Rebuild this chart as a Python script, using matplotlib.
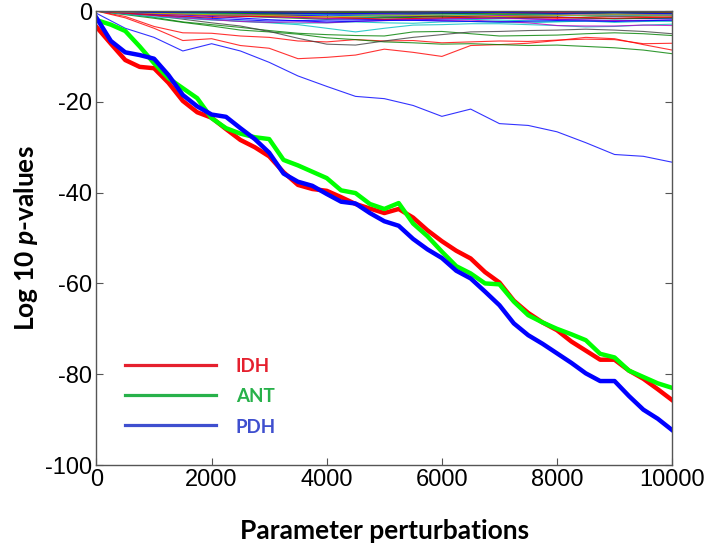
import matplotlib
matplotlib.use("Agg")
import matplotlib.pyplot as plt
import numpy as np

plt.rcParams['axes.unicode_minus'] = False
plt.rcParams['mathtext.fontset'] = 'custom'
plt.rcParams['mathtext.it'] = 'Lato:italic:bold'
plt.rcParams['mathtext.rm'] = 'Lato:bold'

# main runs, read every 250 perturbations
x_main = np.arange(0, 10001, 250)
idh = [-3.5, -7.2, -10.8, -12.3, -12.6, -15.8, -19.8, -22.3, -23.5, -26.0, -28.4,
       -30.0, -32.0, -35.5, -38.3, -39.2, -39.6, -41.0, -42.5, -43.5, -44.5,
       -43.6, -45.5, -48.3, -50.7, -52.8, -54.5, -57.5, -59.8, -63.8, -66.5,
       -68.6, -70.3, -72.8, -74.8, -76.8, -76.8, -79.2, -81.0, -83.3, -85.7]
ant = [-2.0, -3.0, -4.4, -7.8, -11.5, -14.8, -17.0, -19.2, -23.6, -25.8, -27.0,
       -27.8, -28.2, -32.8, -34.0, -35.4, -36.8, -39.5, -40.1, -42.5, -43.6,
       -42.3, -46.8, -49.6, -53.0, -56.2, -57.8, -60.0, -60.2, -64.0, -67.0,
       -68.6, -70.0, -71.2, -72.5, -75.5, -76.3, -79.2, -80.6, -82.0, -83.0]
pdh = [-1.5, -6.6, -9.1, -9.7, -10.5, -14.1, -18.5, -21.0, -22.8, -23.3, -25.8,
       -28.2, -31.2, -35.8, -37.6, -38.5, -40.3, -42.0, -42.4, -44.5, -46.3,
       -47.3, -50.2, -52.5, -54.4, -57.2, -58.9, -61.8, -64.8, -68.8, -71.4,
       -73.3, -75.4, -77.5, -79.8, -81.5, -81.5, -84.8, -87.8, -89.8, -92.3]

# background runs, every 500
x_bg = np.arange(0, 10001, 500)
bg_blue = [-0.5, -3.8, -5.8, -8.8, -7.2, -8.8, -11.3, -14.3, -16.6, -18.8, -19.3,
           -20.8, -23.2, -21.6, -24.8, -25.2, -26.6, -29.0, -31.6, -32.0, -33.3]
bg_red_a = [0, -1.5, -3.8, -6.5, -6.1, -7.6, -8.2, -10.5, -10.2, -9.7, -8.4,
            -9.1, -10.0, -7.6, -7.4, -7.1, -6.5, -5.8, -6.1, -7.4, -8.6]
bg_red_b = [0, -1.2, -3.4, -4.8, -4.9, -5.5, -5.8, -6.6, -6.8, -6.3, -6.6,
            -6.5, -7.0, -6.8, -6.6, -6.7, -6.4, -6.2, -6.3, -7.2, -7.1]
bg_green_a = [0, -0.8, -1.6, -2.5, -3.3, -4.2, -4.6, -5.1, -5.9, -6.3, -6.8,
              -7.0, -7.3, -7.2, -7.4, -7.6, -7.5, -7.8, -8.1, -8.6, -9.4]
bg_green_b = [0, -0.6, -1.4, -2.4, -3.0, -3.6, -4.3, -4.9, -5.2, -5.4, -5.5,
              -4.6, -4.5, -5.0, -5.5, -5.4, -5.3, -5.0, -4.8, -5.0, -5.4]
bg_gray = [0, -0.5, -1.0, -1.8, -2.6, -3.3, -4.5, -6.0, -7.3, -7.5, -6.6,
           -5.8, -5.2, -4.6, -4.5, -4.3, -4.2, -4.0, -4.2, -4.5, -5.0]
bg_cyan = [0, -0.4, -0.9, -1.4, -1.8, -2.3, -2.6, -3.0, -3.8, -4.6, -3.8,
           -3.1, -3.0, -2.8, -2.8, -3.0, -3.2, -3.5, -3.4, -3.1, -2.9]
bg_cyan2 = [0, -0.7, -1.3, -1.6, -2.0, -2.2, -2.5, -2.7, -2.6, -2.4, -2.6,
            -2.7, -2.4, -2.3, -2.5, -2.6, -2.4, -2.2, -2.5, -2.3, -2.2]
bg_mag = [0, -0.5, -1.0, -1.5, -1.9, -2.3, -2.5, -2.4, -2.6, -2.3, -2.1,
          -2.0, -2.1, -2.0, -2.3, -2.6, -3.2, -3.3, -3.3, -3.1, -3.2]

# shallow runs near zero, every 1000
x_top = np.arange(0, 10001, 1000)
top_b1 = [0, -0.6, -1.2, -1.9, -2.4, -2.1, -1.8, -1.5, -1.9, -1.6, -1.7]
top_g1 = [0, -0.3, -0.5, -0.8, -0.7, -1.0, -1.3, -1.1, -0.9, -1.2, -1.0]
top_r1 = [0, -0.5, -0.9, -1.2, -1.6, -1.4, -1.1, -1.3, -1.6, -1.2, -1.4]
top_c1 = [0, -0.4, -0.7, -1.0, -1.2, -1.5, -1.7, -2.0, -2.3, -2.0, -2.2]
top_m1 = [0, -0.2, -0.6, -0.9, -0.8, -0.6, -0.9, -1.0, -0.8, -0.9, -0.7]
top_y1 = [0, -0.3, -0.4, -0.6, -0.5, -0.4, -0.6, -0.5, -0.4, -0.6, -0.5]
top_k1 = [0, -0.2, -0.4, -0.3, -0.5, -0.7, -0.6, -0.4, -0.5, -0.3, -0.4]
top_b2 = [0, -0.4, -0.8, -1.1, -0.9, -1.2, -1.0, -1.3, -1.1, -0.8, -1.0]
top_g2 = [0, -0.5, -0.9, -1.4, -1.8, -1.5, -1.3, -1.6, -1.4, -1.7, -1.5]
top_r2 = [0, -0.2, -0.3, -0.5, -0.4, -0.3, -0.2, -0.4, -0.3, -0.2, -0.3]
top_c2 = [0, -0.3, -0.6, -0.5, -0.8, -1.0, -0.8, -0.7, -0.9, -1.1, -0.9]
top_m2 = [0, -0.6, -1.0, -1.3, -1.6, -1.9, -1.7, -1.6, -1.9, -2.1, -2.0]
top_k2 = [0, -0.1, -0.2, -0.3, -0.2, -0.1, -0.3, -0.2, -0.1, -0.2, -0.2]
top_b3 = [0, -0.8, -1.6, -2.2, -2.0, -1.9, -2.2, -2.4, -2.1, -2.3, -2.0]
top_r3 = [0, -0.9, -1.4, -1.1, -1.3, -1.8, -1.5, -1.2, -1.4, -1.6, -1.3]
top_y2 = [0, -0.5, -0.8, -1.0, -1.3, -1.1, -0.9, -1.2, -1.0, -0.8, -0.9]
top_g3 = [0, -0.2, -0.4, -0.6, -0.4, -0.3, -0.5, -0.7, -0.6, -0.4, -0.5]
top_b4 = [0, -0.3, -0.2, -0.4, -0.6, -0.5, -0.4, -0.3, -0.5, -0.4, -0.6]

fig = plt.figure(figsize=(7.12, 5.51), dpi=100)
ax = fig.add_axes([0.1355, 0.156, 0.8085, 0.824])

bg = [(bg_blue, '#0000ff'), (bg_red_a, '#ff0000'), (bg_red_b, '#ff0000'),
      (bg_green_a, '#008000'), (bg_green_b, '#008000'), (bg_gray, '#404040'),
      (bg_cyan, '#00bfbf'), (bg_cyan2, '#00bfbf'), (bg_mag, '#bf00bf')]
for ys, c in bg:
    ax.plot(x_bg, ys, color=c, lw=0.8, alpha=0.8)

tops = [(top_b1, '#0000ff'), (top_g1, '#008000'), (top_r1, '#ff0000'),
        (top_c1, '#00bfbf'), (top_m1, '#bf00bf'), (top_y1, '#bfbf00'),
        (top_k1, '#404040'), (top_b2, '#0000ff'), (top_g2, '#008000'),
        (top_r2, '#ff0000'), (top_c2, '#00bfbf'), (top_m2, '#bf00bf'),
        (top_k2, '#404040'), (top_b3, '#0000ff'), (top_r3, '#ff0000'),
        (top_y2, '#bfbf00'), (top_g3, '#008000'), (top_b4, '#0000ff')]
for ys, c in tops:
    ax.plot(x_top, ys, color=c, lw=0.8, alpha=0.85)

ax.plot(x_main, idh, color='#ff0000', lw=3.2)
ax.plot(x_main, ant, color='#00ff00', lw=3.2)
ax.plot(x_main, pdh, color='#0000ff', lw=3.2)

ax.set_xlim(0, 10000)
ax.set_ylim(-100, 0)
ax.set_xticks(range(0, 10001, 2000))
ax.set_yticks(range(-100, 1, 20))
ax.tick_params(direction='in', top=True, right=True, length=5, width=0.8,
               color='#555555', labelsize=17, pad=3)
for lab in ax.get_xticklabels() + ax.get_yticklabels():
    lab.set_family('Liberation Sans')
for sp in ax.spines.values():
    sp.set_color('#555555')
    sp.set_linewidth(1.0)

ax.set_xlabel('Parameter perturbations', fontsize=19, fontweight='bold',
              family='Lato', labelpad=20)
ax.set_ylabel(r'Log 10 $p$-values', fontsize=19, fontweight='bold',
              family='Lato', labelpad=4)

# hand drawn legend
leg = [('IDH', '#e5202e', 0.220, 0.216),
       ('ANT', '#27b14a', 0.154, 0.152),
       ('PDH', '#3f4fcf', 0.088, 0.082)]
for name, c, yl, yt in leg:
    ax.plot([0.05, 0.207], [yl, yl], color=c, lw=2.3, transform=ax.transAxes)
    ax.text(0.242, yt, name, color=c, fontsize=13.5, fontweight='bold',
            family='Lato', va='center', ha='left', transform=ax.transAxes)

fig.savefig('out.png', dpi=100)
